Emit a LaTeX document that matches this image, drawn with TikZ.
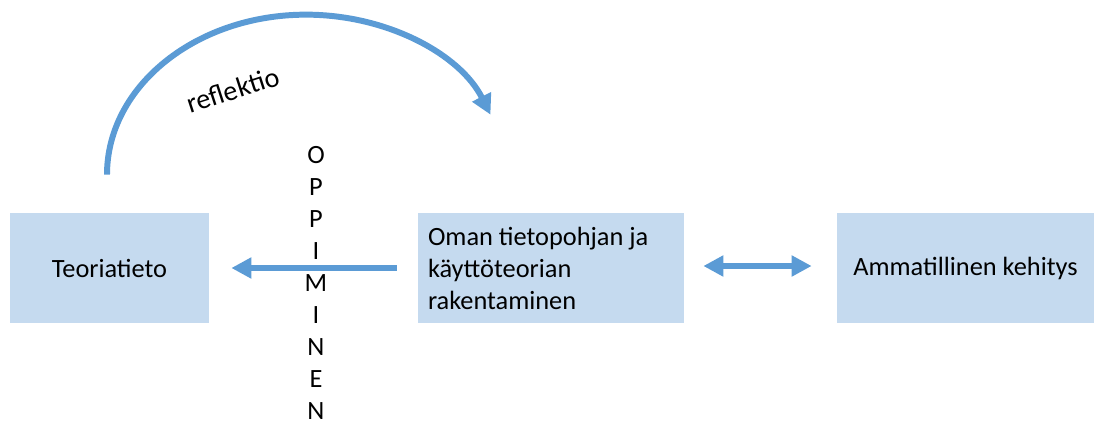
\documentclass[tikz,border=0pt]{standalone}
\usepackage{fontspec}
\setmainfont{Carlito}
\usetikzlibrary{arrows.meta}
\usetikzlibrary{positioning}
\definecolor{boxblue}{RGB}{197,218,239}
\definecolor{arrowblue}{RGB}{91,155,213}

\begin{document}
\begin{tikzpicture}[
 >={Triangle[length=0.4cm,width=0.4cm]},
 box/.style={fill=boxblue, minimum height=2.2cm, inner xsep=0.2cm, font=\fontsize{15}{18.2}\selectfont},
 arr/.style={arrowblue, line width=3.4pt, ->},
 letter/.style={font=\fontsize{15}{18.2}\selectfont, inner sep=0pt}
]
\useasboundingbox (0,0) rectangle (21.88,8.48);

\node[box, minimum width=3.98cm] (teoria) at (2.19,3.12) {Teoriatieto};
\node[box, text width=4.92cm, align=flush left] (oma) at (11.02,3.12) {Oman tietopohjan ja\\käyttöteorian\\rakentaminen};
\node[box, minimum width=5.14cm] (ammat) at (19.31,3.12) {Ammatillinen kehitys};

\draw[arr] ([xshift=-0.42cm]oma.west) -- ([xshift=0.44cm]teoria.east);
\draw[arr, <->] ([xshift=0.38cm,yshift=0.04cm]oma.east) -- ([xshift=-0.5cm,yshift=0.04cm]ammat.west);

\coordinate (start) at ([xshift=-0.05cm,yshift=0.76cm]teoria.north);
\draw[arr] (start) arc[start angle=180, end angle=22, x radius=3.98cm, y radius=3.2cm];
\node[rotate=18, font=\fontsize{16}{19}\selectfont] (refl) at (4.66,6.68) {reflektio};

\foreach \c [count=\i from 0] in {O,P,P,I,M,I,N,E,N} {
 \node[letter] (opp\i) at (6.32,5.37-0.64*\i) {\c};
}
\end{tikzpicture}
\end{document}
